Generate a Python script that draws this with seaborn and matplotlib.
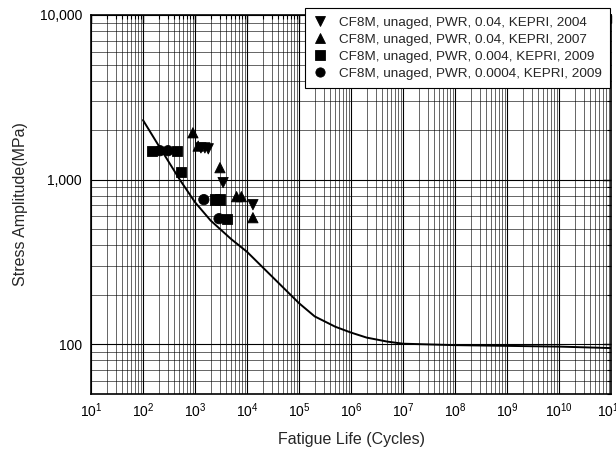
import numpy as np
import pandas as pd
import seaborn as sns
import matplotlib
matplotlib.use("Agg")
import matplotlib.pyplot as plt
from matplotlib.ticker import FixedLocator, LogLocator, NullFormatter, FixedFormatter

# Design curve
curve_N = [1e2, 2e2, 5e2, 1e3, 2e3, 5e3, 1e4, 2e4, 5e4, 1e5, 2e5, 5e5, 1e6, 2e6, 5e6, 1e7, 1e8, 1e9, 1e10, 1e11]
curve_S = [2300, 1610, 1010, 730, 565, 435, 365, 294, 221, 178, 148, 128, 118, 110, 104, 101, 99, 98, 97, 95]

# Series
labels = ["CF8M, unaged, PWR, 0.04, KEPRI, 2004",
          "CF8M, unaged, PWR, 0.04, KEPRI, 2007",
          "CF8M, unaged, PWR, 0.004, KEPRI, 2009",
          "CF8M, unaged, PWR, 0.0004, KEPRI, 2009"]
markers = ["v", "^", "s", "o"]

s2004_N = [1300, 1550, 1800, 3470, 13000]
s2004_S = [1560, 1560, 1540, 960, 705]
s2007_N = [912, 1150, 3020, 6300, 7800, 13000]
s2007_S = [1927, 1600, 1183, 789, 789, 588]
s2009a_N = [149, 451, 538, 2400, 3000, 4120]
s2009a_S = [1500, 1500, 1117, 757, 757, 580]
s2009b_N = [212, 303, 1480, 2900]
s2009b_S = [1500, 1500, 757, 580]

x_ticks = [10.0 ** k for k in range(1, 12)]
x_ticklabels = [r"$10^{%d}$" % k for k in range(1, 12)]
y_ticks = [100, 1000, 10000]
y_ticklabels = ["100", "1,000", "10,000"]

df = pd.concat([
    pd.DataFrame({"N": s2004_N, "S": s2004_S, "series": labels[0]}),
    pd.DataFrame({"N": s2007_N, "S": s2007_S, "series": labels[1]}),
    pd.DataFrame({"N": s2009a_N, "S": s2009a_S, "series": labels[2]}),
    pd.DataFrame({"N": s2009b_N, "S": s2009b_S, "series": labels[3]}),
], ignore_index=True)
cdf = pd.DataFrame({"N": curve_N, "S": curve_S})

sns.set_style("white")
plt.rcParams["font.family"] = ["Liberation Sans", "DejaVu Sans"]
plt.rcParams["mathtext.default"] = "regular"

fig = plt.figure(figsize=(6.16, 4.54), dpi=100)
ax = fig.add_axes([91/616, 1 - 394/454, 520/616, 379/454])
ax.set_xscale("log")
ax.set_yscale("log")
ax.set_xlim(10, 1e11)
ax.set_ylim(50, 10000)

sns.lineplot(data=cdf, x="N", y="S", ax=ax, color="black", lw=1.4, legend=False, zorder=3)
sns.scatterplot(data=df, x="N", y="S", style="series", markers=dict(zip(labels, markers)),
                style_order=labels, color="black", edgecolor="black", s=55, ax=ax, zorder=4)

ax.xaxis.set_major_locator(FixedLocator(x_ticks))
ax.xaxis.set_major_formatter(FixedFormatter(x_ticklabels))
ax.xaxis.set_minor_locator(LogLocator(base=10, subs=np.arange(2, 10), numticks=100))
ax.xaxis.set_minor_formatter(NullFormatter())
ax.yaxis.set_major_locator(FixedLocator(y_ticks))
ax.yaxis.set_major_formatter(FixedFormatter(y_ticklabels))
ax.yaxis.set_minor_locator(LogLocator(base=10, subs=np.arange(2, 10), numticks=100))
ax.yaxis.set_minor_formatter(NullFormatter())

ax.grid(which="major", color="black", lw=0.8, zorder=0)
ax.grid(which="minor", color="black", lw=0.6, alpha=0.7, zorder=0)
ax.set_axisbelow(True)

ax.tick_params(which="both", direction="in", top=True, right=True, colors="black", labelsize=10)
ax.tick_params(which="major", length=6, width=1)
ax.tick_params(which="minor", length=3, width=0.8)
ax.tick_params(axis="y", which="major", pad=6.5)
ax.tick_params(axis="x", which="major", pad=5)
for sp in ax.spines.values():
    sp.set_color("black")
    sp.set_linewidth(1.2)

ax.set_xlabel("Fatigue Life (Cycles)", fontsize=11.5, labelpad=9)
ax.set_ylabel("Stress Amplitude(MPa)", fontsize=11.5, labelpad=8)

leg = ax.legend(loc="upper right", bbox_to_anchor=(610/616, 1 - 8/454), bbox_transform=fig.transFigure,
                borderaxespad=0, frameon=True, fancybox=False, fontsize=9.7, labelspacing=0.35,
                handlelength=1.0, handletextpad=0.9, borderpad=0.6, markerscale=0.9)
leg.get_frame().set_edgecolor("black")
leg.get_frame().set_linewidth(0.8)
leg.get_frame().set_alpha(1)
leg.set_zorder(10)

fig.savefig("out.png", dpi=100)
